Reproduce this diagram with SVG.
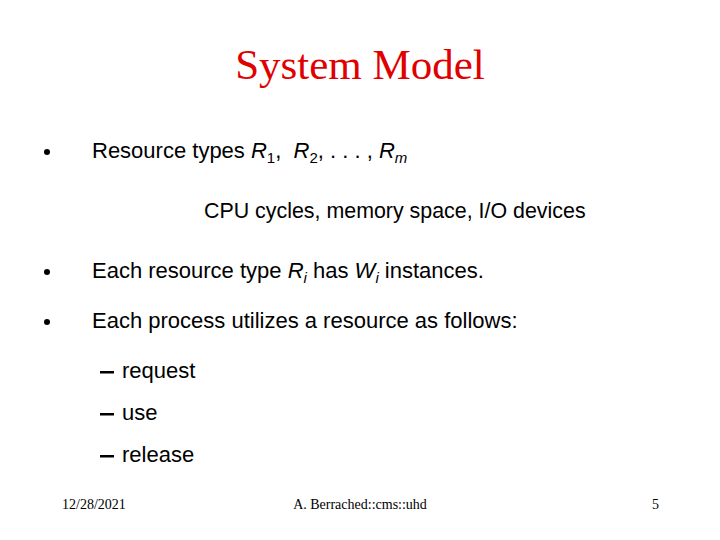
<svg xmlns="http://www.w3.org/2000/svg" width="720" height="540" viewBox="0 0 720 540">
<style>
.s{font-family:"Liberation Sans",Arial,sans-serif;font-size:22px;fill:#000;white-space:pre}
.f{font-family:"Liberation Serif","Times New Roman",serif;font-size:14px;fill:#000}
</style>
<rect width="720" height="540" fill="#fff"/>
<text x="360" y="79" text-anchor="middle" font-family="Liberation Serif,serif" font-size="43" fill="#e00000">System Model</text>
<g id="b1"><circle cx="47" cy="152" r="3"/><text class="s" x="92" y="158" xml:space="preserve">Resource types <tspan font-style="italic">R</tspan><tspan font-size="15" dy="5">1</tspan><tspan dy="-5">,  </tspan><tspan font-style="italic">R</tspan><tspan font-size="15" dy="5">2</tspan><tspan dy="-5">, . . . , </tspan><tspan font-style="italic">R</tspan><tspan font-size="15" dy="5" font-style="italic">m</tspan></text></g>
<text class="s" x="204" y="218" style="font-size:21.4px">CPU cycles, memory space, I/O devices</text>
<g id="b2"><circle cx="47" cy="272" r="3"/><text class="s" x="92" y="278" xml:space="preserve">Each resource type <tspan font-style="italic">R</tspan><tspan font-size="15" dy="5" font-style="italic">i</tspan><tspan dy="-5"> has </tspan><tspan font-style="italic">W</tspan><tspan font-size="15" dy="5" font-style="italic">i</tspan><tspan dy="-5"> instances.</tspan></text></g>
<g id="b3"><circle cx="47" cy="322" r="3"/><text class="s" x="92" y="328">Each process utilizes a resource as follows:</text></g>
<g id="d"><rect x="100" y="371" width="14" height="2.5"/><text class="s" x="122" y="378">request</text>
<rect x="100" y="413" width="14" height="2.5"/><text class="s" x="122" y="420">use</text>
<rect x="100" y="455" width="14" height="2.5"/><text class="s" x="122" y="462">release</text></g>
<text class="f" x="62" y="509">12/28/2021</text>
<text class="f" x="360" y="509" text-anchor="middle">A. Berrached::cms::uhd</text>
<text class="f" x="652" y="509">5</text>
</svg>
